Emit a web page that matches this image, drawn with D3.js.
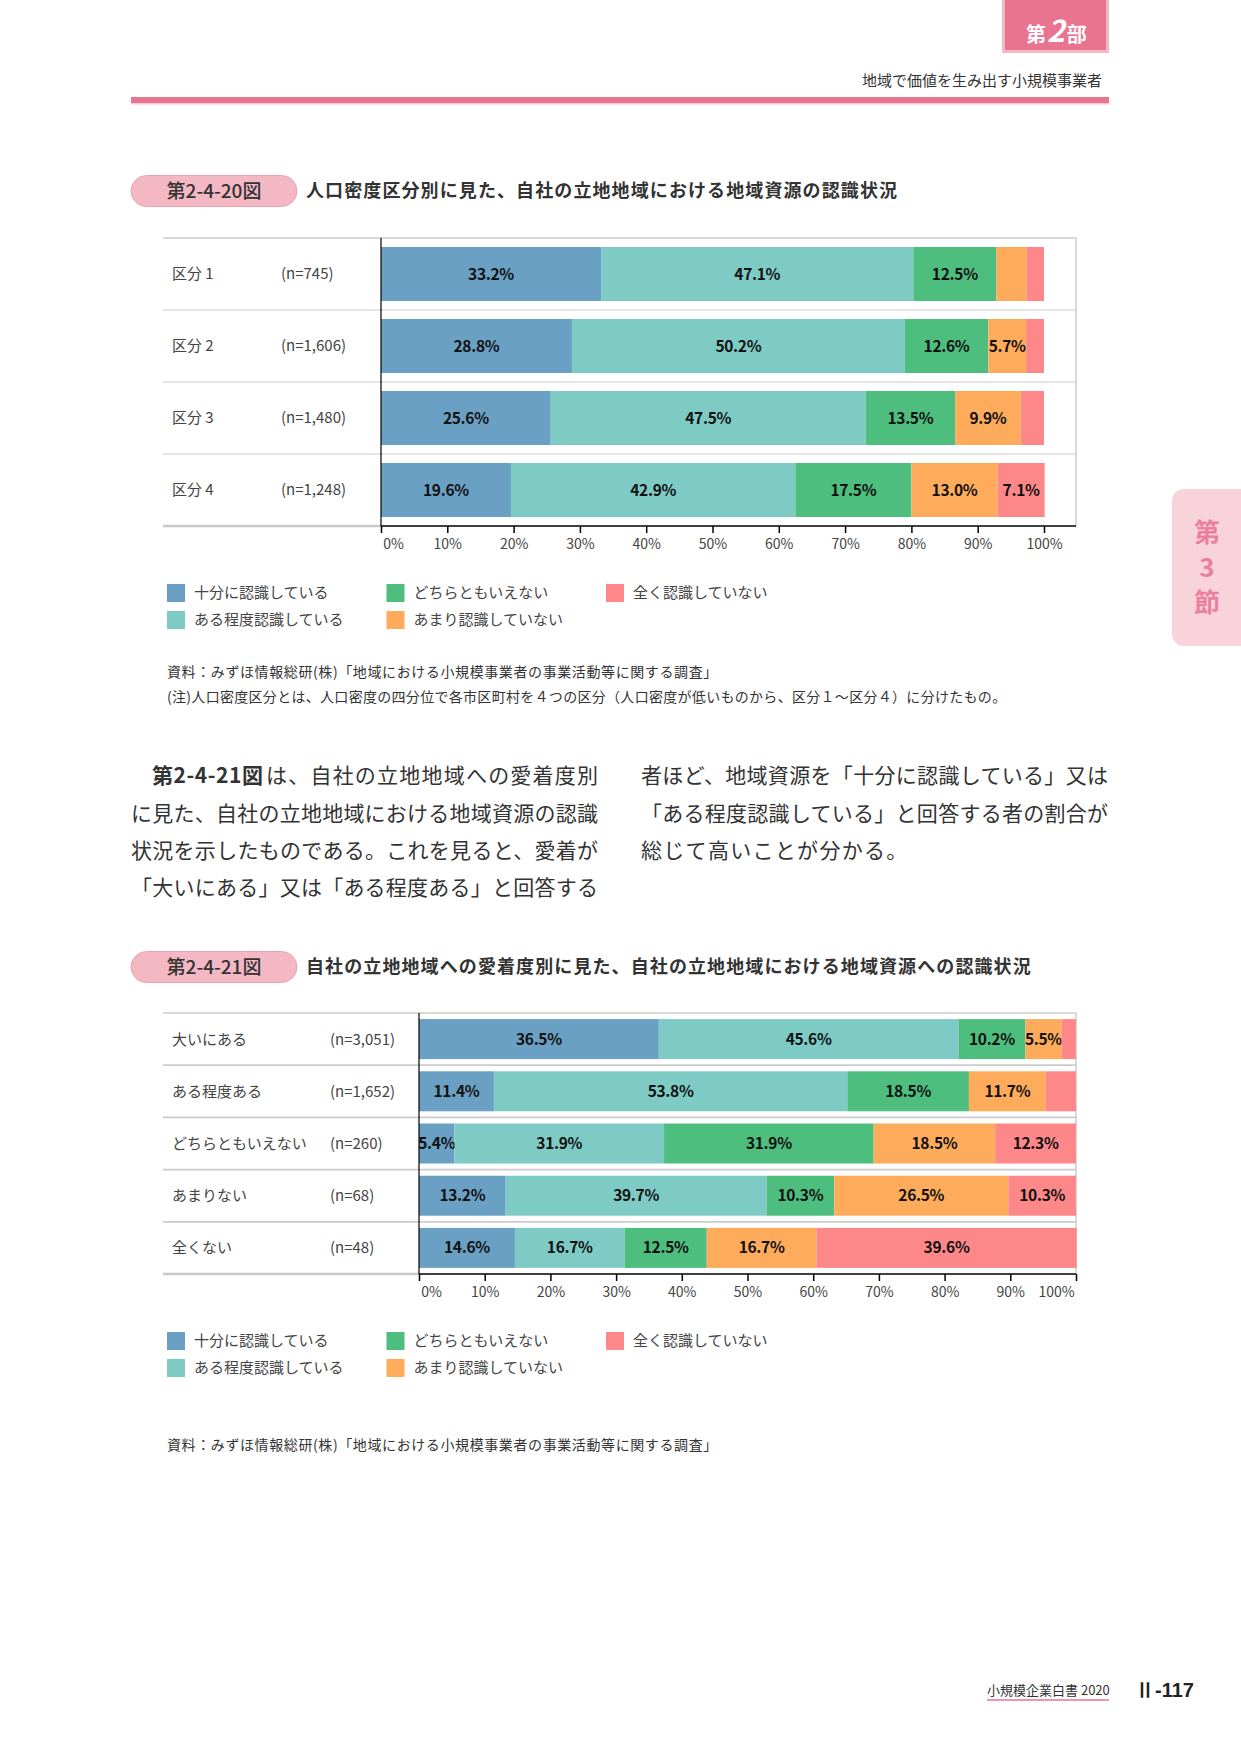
<!DOCTYPE html>
<html lang="ja">
<head>
<meta charset="utf-8">
<title>第2-4-20図・第2-4-21図</title>
<script src="https://d3js.org/d3.v7.min.js"></script>
<style>
  body { margin: 0; background: #fff; }
  svg { display: block; font-family: "Noto Sans CJK JP", "Noto Sans", sans-serif; }
  .rowlab { font-size: 15px; fill: #444; }
  .barlab { font-size: 15.5px; font-weight: 700; fill: #111; }
  .tick text { font-size: 14px; fill: #444; font-family: "Noto Sans CJK JP", sans-serif; }
  .leg { font-size: 15px; fill: #444; }
  .src { font-size: 14px; fill: #333; }
  .body { font-size: 21px; fill: #333; }
</style>
</head>
<body>
<script>
// 凡例（系列名）
var seriesNames = ["十分に認識している", "ある程度認識している", "どちらともいえない", "あまり認識していない", "全く認識していない"];
var seriesColors = ["#69a0c3", "#7ecbc6", "#4dbe7e", "#feac5b", "#fe8789"];

// 第2-4-20図
var fig1Cats = ["区分 1", "区分 2", "区分 3", "区分 4"];
var fig1N = ["(n=745)", "(n=1,606)", "(n=1,480)", "(n=1,248)"];
var fig1Values = [
  [33.2, 47.1, 12.5, 4.6, 2.6],
  [28.8, 50.2, 12.6, 5.7, 2.7],
  [25.6, 47.5, 13.5, 9.9, 3.5],
  [19.6, 42.9, 17.5, 13.0, 7.1]
];

// 第2-4-21図
var fig2Cats = ["大いにある", "ある程度ある", "どちらともいえない", "あまりない", "全くない"];
var fig2N = ["(n=3,051)", "(n=1,652)", "(n=260)", "(n=68)", "(n=48)"];
var fig2Values = [
  [36.5, 45.6, 10.2, 5.5, 2.2],
  [11.4, 53.8, 18.5, 11.7, 4.6],
  [5.4, 31.9, 31.9, 18.5, 12.3],
  [13.2, 39.7, 10.3, 26.5, 10.3],
  [14.6, 16.7, 12.5, 16.7, 39.6]
];

var tickValues = [0, 10, 20, 30, 40, 50, 60, 70, 80, 90, 100];

// 本文
var bodyLeft = [
  "に見た、自社の立地地域における地域資源の認識",
  "状況を示したものである。これを見ると、愛着が",
  "「大いにある」又は「ある程度ある」と回答する"
];
var bodyRight = [
  "者ほど、地域資源を「十分に認識している」又は",
  "「ある程度認識している」と回答する者の割合が",
  "総じて高いことが分かる。"
];

var W = 1241, H = 1754;
var svg = d3.select("body").append("svg").attr("width", W).attr("height", H);
svg.append("rect").attr("width", W).attr("height", H).attr("fill", "#fff");

var pink = "#e9748f";

// ヘッダー
svg.append("rect").attr("x", 1002).attr("y", 0).attr("width", 107).attr("height", 53).attr("fill", "#f5b8c6");
svg.append("rect").attr("x", 1005).attr("y", 0).attr("width", 101).attr("height", 50).attr("fill", pink);
var tab = svg.append("text").attr("x", 1026).attr("y", 42).attr("fill", "#fff").attr("font-weight", 700);
tab.append("tspan").attr("font-size", 20).text("第");
tab.append("tspan").attr("font-size", 30).attr("font-style", "italic").attr("dx", 1).text("2");
tab.append("tspan").attr("font-size", 20).attr("dx", 2).text("部");

svg.append("text").attr("x", 1102).attr("y", 86).attr("text-anchor", "end")
  .attr("font-size", 15).attr("fill", "#333").text("地域で価値を生み出す小規模事業者");
svg.append("rect").attr("x", 131).attr("y", 97).attr("width", 978).attr("height", 6).attr("fill", pink);
svg.append("rect").attr("x", 131).attr("y", 103).attr("width", 978).attr("height", 1.5).attr("fill", "#f7c9d4");

// 右側のつまみ
svg.append("rect").attr("x", 1172).attr("y", 489).attr("width", 90).attr("height", 157).attr("rx", 12).attr("fill", "#f8d3dc");
var side = svg.append("text").attr("text-anchor", "middle").attr("font-size", 26).attr("font-weight", 700).attr("fill", "#ec7f9f");
["第", "3", "節"].forEach(function(t, i) {
  side.append("tspan").attr("x", 1207).attr("y", 533 + i * 35).attr("dy", "0.36em").text(t);
});

// 図タイトル
function figTitle(y, num, title) {
  svg.append("rect").attr("x", 131).attr("y", y - 15.5).attr("width", 166).attr("height", 31).attr("rx", 15.5)
    .attr("fill", "#f4b7c4").attr("stroke", "#eea3b4").attr("stroke-width", 1);
  svg.append("text").attr("x", 214).attr("y", y).attr("dy", "0.36em").attr("text-anchor", "middle")
    .attr("font-size", 19).attr("font-weight", 500).attr("fill", "#333").text(num);
  svg.append("text").attr("x", 306).attr("y", y).attr("dy", "0.36em")
    .attr("font-size", 18).attr("font-weight", 700).attr("letter-spacing", 1.1).attr("fill", "#333").text(title);
}

function drawChart(cfg) {
  var gridL = 163, gridR = 1076;
  var x = d3.scaleLinear().domain([0, 100]).range([cfg.x0, cfg.x1]);
  var y = d3.scaleBand().domain(cfg.cats).range([cfg.top, cfg.bottom])
    .paddingInner(cfg.pi).paddingOuter(cfg.pi / 2);
  var step = y.step();

  var rows = cfg.cats.map(function(c, i) {
    var o = { cat: c };
    seriesNames.forEach(function(s, j) { o[s] = cfg.values[i][j]; });
    return o;
  });
  var stacked = d3.stack().keys(seriesNames)(rows);

  var g = svg.append("g");
  // 罫線
  g.append("line").attr("x1", gridL).attr("x2", gridR).attr("y1", cfg.top).attr("y2", cfg.top)
    .attr("stroke", "#ccc").attr("stroke-width", 1.5);
  d3.range(1, cfg.cats.length).forEach(function(i) {
    g.append("line").attr("x1", gridL).attr("x2", gridR)
      .attr("y1", cfg.top + step * i).attr("y2", cfg.top + step * i)
      .attr("stroke", "#ccc").attr("stroke-width", cfg.sepW);
  });
  g.append("line").attr("x1", gridR).attr("x2", gridR).attr("y1", cfg.top).attr("y2", cfg.bottom)
    .attr("stroke", "#ccc").attr("stroke-width", 1.5);
  g.append("line").attr("x1", gridL).attr("x2", cfg.x0).attr("y1", cfg.bottom).attr("y2", cfg.bottom)
    .attr("stroke", "#c8c8c8").attr("stroke-width", 2.5);

  // 帯
  var layer = g.selectAll("g.layer").data(stacked).enter().append("g").attr("class", "layer")
    .attr("fill", function(d, i) { return seriesColors[i]; });
  layer.selectAll("rect").data(function(d) { return d; }).enter().append("rect")
    .attr("x", function(d) { return x(d[0]); })
    .attr("width", function(d) { return x(d[1]) - x(d[0]); })
    .attr("y", function(d) { return y(d.data.cat); })
    .attr("height", y.bandwidth());
  layer.selectAll("text").data(function(d) {
      return d.map(function(p) { return { p: p, v: p[1] - p[0] }; });
    }).enter()
    .filter(function(d) { return d.v >= 5; })
    .append("text").attr("class", "barlab")
    .attr("x", function(d) { return x((d.p[0] + d.p[1]) / 2); })
    .attr("y", function(d) { return y(d.p.data.cat) + y.bandwidth() / 2; })
    .attr("dy", "0.36em").attr("text-anchor", "middle").attr("letter-spacing", -0.3)
    .text(function(d) { return d.v.toFixed(1) + "%"; });

  // 行ラベル
  cfg.cats.forEach(function(c, i) {
    var cy = y(c) + y.bandwidth() / 2;
    g.append("text").attr("class", "rowlab").attr("x", 172).attr("y", cy).attr("dy", "0.36em").text(c);
    g.append("text").attr("class", "rowlab").attr("x", cfg.nX).attr("y", cy).attr("dy", "0.36em").text(cfg.ns[i]);
  });

  // 軸
  var ax = g.append("g").attr("transform", "translate(0," + cfg.bottom + ")")
    .call(d3.axisBottom(x).tickValues(tickValues).tickSize(7).tickSizeOuter(0).tickPadding(6)
      .tickFormat(function(d) { return d + "%"; }));
  ax.select(".domain").remove();
  ax.selectAll(".tick line").attr("stroke", "#000").attr("stroke-width", 1.5);
  ax.selectAll(".tick text").attr("dx", function(d) {
    if (d === 0) return 12;
    if (d === 100) return cfg.dx100;
    return 0;
  });
  g.append("line").attr("x1", cfg.x0).attr("x2", gridR).attr("y1", cfg.bottom).attr("y2", cfg.bottom)
    .attr("stroke", "#000").attr("stroke-width", 1.5);
  g.append("line").attr("x1", cfg.x0).attr("x2", cfg.x0).attr("y1", cfg.top).attr("y2", cfg.bottom)
    .attr("stroke", "#000").attr("stroke-width", 1.2);

  // 凡例
  seriesNames.forEach(function(s, i) {
    var lx = 167 + Math.floor(i / 2) * 219.5;
    var ly = cfg.legendY + (i % 2) * 27;
    g.append("rect").attr("x", lx).attr("y", ly).attr("width", 18).attr("height", 18).attr("fill", seriesColors[i]);
    g.append("text").attr("class", "leg").attr("x", lx + 27).attr("y", ly + 9).attr("dy", "0.36em").text(s);
  });
}

figTitle(191, "第2-4-20図", "人口密度区分別に見た、自社の立地地域における地域資源の認識状況");
drawChart({ top: 238, bottom: 526, x0: 381, x1: 1044, pi: 0.25, sepW: 1.2, nX: 281,
  cats: fig1Cats, ns: fig1N, values: fig1Values, dx100: 0, legendY: 584 });

svg.append("text").attr("class", "src").attr("x", 167).attr("y", 672).attr("dy", "0.36em").attr("letter-spacing", 0.6)
  .text("資料：みずほ情報総研(株)「地域における小規模事業者の事業活動等に関する調査」");
svg.append("text").attr("class", "src").attr("x", 167).attr("y", 697).attr("dy", "0.36em").attr("letter-spacing", 0.3)
  .text("(注)人口密度区分とは、人口密度の四分位で各市区町村を４つの区分（人口密度が低いものから、区分１～区分４）に分けたもの。");

// 本文
var lineY = [775, 813, 850, 887];
svg.append("text").attr("class", "body").attr("x", 152).attr("y", lineY[0]).attr("dy", "0.36em")
  .attr("font-weight", 700).attr("fill", "#222").attr("textLength", 111).attr("lengthAdjust", "spacing")
  .text("第2-4-21図");
svg.append("text").attr("class", "body").attr("x", 266).attr("y", lineY[0]).attr("dy", "0.36em")
  .attr("textLength", 332).attr("lengthAdjust", "spacing").text("は、自社の立地地域への愛着度別");
bodyLeft.forEach(function(t, i) {
  svg.append("text").attr("class", "body").attr("x", 131).attr("y", lineY[i + 1]).attr("dy", "0.36em")
    .attr("textLength", 467).attr("lengthAdjust", "spacing").text(t);
});
bodyRight.forEach(function(t, i) {
  var tx = svg.append("text").attr("class", "body").attr("x", 641).attr("y", lineY[i]).attr("dy", "0.36em").text(t);
  if (i < 2) tx.attr("textLength", 467).attr("lengthAdjust", "spacing");
  else tx.attr("letter-spacing", 1.3);
});

figTitle(967, "第2-4-21図", "自社の立地地域への愛着度別に見た、自社の立地地域における地域資源への認識状況");
drawChart({ top: 1013, bottom: 1274, x0: 419, x1: 1076, pi: 0.234, sepW: 1.8, nX: 330,
  cats: fig2Cats, ns: fig2N, values: fig2Values, dx100: -20, legendY: 1332 });

svg.append("text").attr("class", "src").attr("x", 167).attr("y", 1445).attr("dy", "0.36em").attr("letter-spacing", 0.6)
  .text("資料：みずほ情報総研(株)「地域における小規模事業者の事業活動等に関する調査」");

// フッター
svg.append("text").attr("x", 987).attr("y", 1690).attr("dy", "0.36em").attr("font-size", 13).attr("fill", "#333")
  .text("小規模企業白書  2020");
svg.append("line").attr("x1", 987).attr("x2", 1109).attr("y1", 1700).attr("y2", 1700).attr("stroke", pink).attr("stroke-width", 1.5);
svg.append("text").attr("x", 1135).attr("y", 1690).attr("dy", "0.36em").attr("font-size", 20).attr("font-weight", 700)
  .attr("fill", "#222").attr("font-family", "Liberation Sans, Arial, sans-serif").text("Ⅱ-117");
</script>
</body>
</html>
